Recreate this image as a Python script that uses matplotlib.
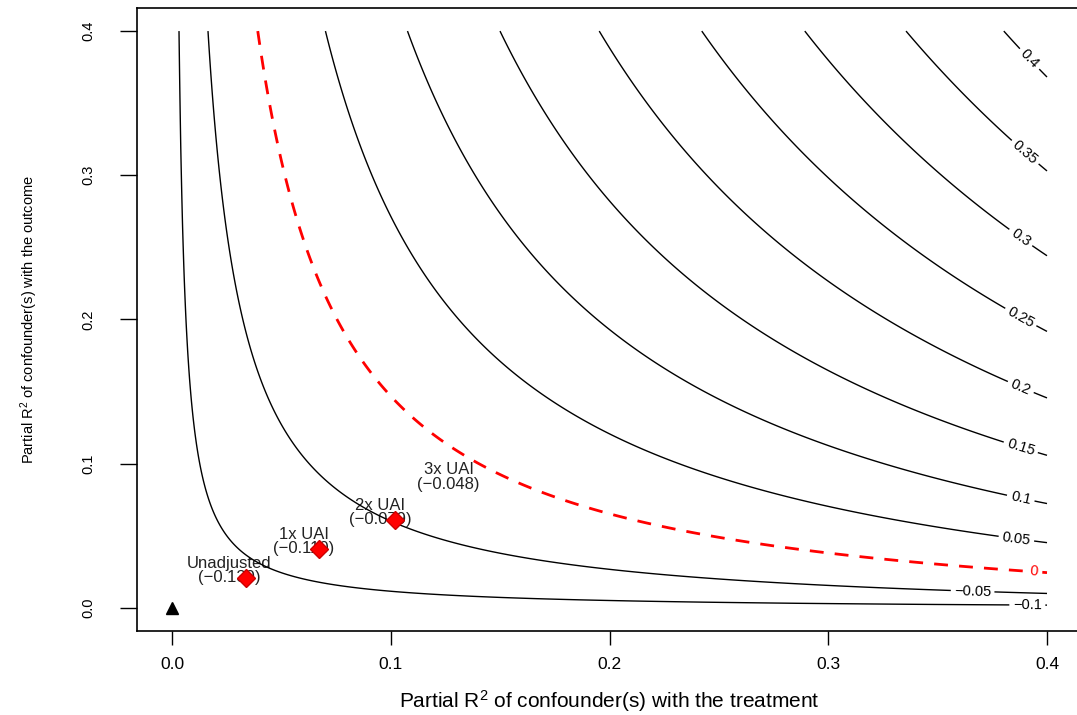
import numpy as np
import matplotlib
matplotlib.use("Agg")
import matplotlib.pyplot as plt
from matplotlib import font_manager

# ---- data -------------------------------------------------------------
estimate = -0.139          # unadjusted estimate (value at the origin)
bias_scale = 1.088         # se * sqrt(dof)
levels = [-0.1, -0.05, 0.0, 0.05, 0.1, 0.15, 0.2, 0.25, 0.3, 0.35, 0.4]
threshold = 0.0

bound_names = ["Unadjusted", "1x UAI", "2x UAI"]
bound_r2dz = [0.0339, 0.0673, 0.102]
bound_r2yz = [0.0208, 0.0409, 0.061]

label_names = ["Unadjusted", "1x UAI", "2x UAI", "3x UAI"]
label_values = ["(\u22120.139)", "(\u22120.110)", "(\u22120.079)", "(\u22120.048)"]
label_r2dz = [0.0262, 0.0604, 0.0950, 0.1264]
label_r2yz = [0.0258, 0.0461, 0.0663, 0.0907]

label_x = {-0.1: 0.391, -0.05: 0.366, 0.0: 0.394, 0.05: 0.386, 0.1: 0.388,
           0.15: 0.388, 0.2: 0.388, 0.25: 0.388, 0.3: 0.388, 0.35: 0.39, 0.4: 0.392}

xticks = [0.0, 0.1, 0.2, 0.3, 0.4]
yticks = [0.0, 0.1, 0.2, 0.3, 0.4]

# ---- fonts ------------------------------------------------------------
avail = {f.name for f in font_manager.fontManager.ttflist}
base = "Liberation Sans" if "Liberation Sans" in avail else "DejaVu Sans"
narrow = "Liberation Sans Narrow" if "Liberation Sans Narrow" in avail else base
plt.rcParams["font.family"] = [base, "DejaVu Sans"]
plt.rcParams["mathtext.fontset"] = "custom"
plt.rcParams["mathtext.rm"] = base
plt.rcParams["mathtext.it"] = base + ":italic"
plt.rcParams["axes.unicode_minus"] = True

# ---- figure -----------------------------------------------------------
fig = plt.figure(figsize=(10.77, 7.15), dpi=100)
W, H = 1077, 715
l, r, t, b = 137, 1082, 8, 631
ax = fig.add_axes([l / W, 1 - b / H, (r - l) / W, (b - t) / H])

gx = np.linspace(0, 0.4, 500)
gy = np.linspace(0, 0.4, 500)
X, Y = np.meshgrid(gx, gy)
Z = estimate + bias_scale * np.sqrt(Y * X / (1 - X))

other = [v for v in levels if v != threshold]
cs = ax.contour(X, Y, Z, levels=other, colors="black", linewidths=1.0,
                linestyles="solid", negative_linestyles="solid")
cs0 = ax.contour(X, Y, Z, levels=[threshold], colors="red", linewidths=2.0,
                 linestyles=[(0, (5, 4))])

def lab_pos(v):
    x = label_x[v]
    y = ((v - estimate) / bias_scale) ** 2 * (1 - x) / x
    return (x, y)

fmt = lambda v: ("%g" % v).replace("-", "\u2212")
ax.clabel(cs, levels=other, manual=[lab_pos(v) for v in other], fmt=fmt,
          fontsize=10.5, inline=True, inline_spacing=5)
ax.clabel(cs0, levels=[threshold], manual=[lab_pos(threshold)], fmt=fmt,
          fontsize=10.5, inline=True, inline_spacing=5, colors="red")

ax.plot([0], [0], marker="^", color="black", ms=9, ls="none")
ax.plot(bound_r2dz, bound_r2yz, marker="D", ls="none", ms=9.5,
        markerfacecolor="red", markeredgecolor="#cc0000")

for n, v, x, y in zip(label_names, label_values, label_r2dz, label_r2yz):
    ax.text(x, y, n + "\n" + v, ha="center", va="center", fontsize=12,
            color="#222222", linespacing=0.95, zorder=1)

ax.set_xlim(-0.016, 0.416)
ax.set_ylim(-0.016, 0.416)
ax.set_xticks(xticks)
ax.set_yticks(yticks)
ax.set_xticklabels(["%.1f" % v for v in xticks], fontsize=12.5)
ax.set_yticklabels(["%.1f" % v for v in yticks], fontsize=10.5, rotation=90,
                   va="center", family=[narrow, base])
ax.tick_params(axis="x", length=10, width=1, pad=9)
ax.tick_params(axis="y", length=12, width=1, pad=18)
for s in ax.spines.values():
    s.set_linewidth(1.2)

ax.set_xlabel("Partial R$^2$ of confounder(s) with the treatment", fontsize=15,
              labelpad=11)
ax.set_ylabel("Partial R$^2$ of confounder(s) with the outcome", fontsize=10.5,
              labelpad=30, family=[narrow, base])

fig.savefig("out.png", dpi=100)
